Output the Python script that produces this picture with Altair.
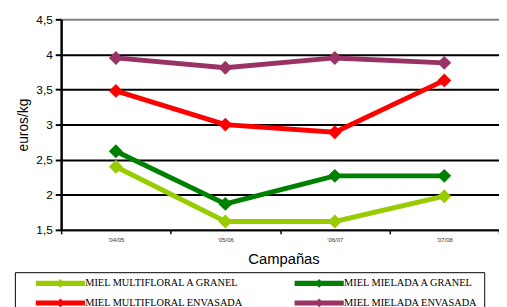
import altair as alt
import pandas as pd

campaigns = ["'04/05", "'05/06", "'06/07", "'07/08"]
series_names = [
    "MIEL MULTIFLORAL A GRANEL",
    "MIEL MIELADA A GRANEL",
    "MIEL MULTIFLORAL ENVASADA",
    "MIEL MIELADA ENVASADA",
]
multifloral_granel = [2.40, 1.62, 1.62, 1.98]
mielada_granel = [2.62, 1.87, 2.27, 2.27]
multifloral_envasada = [3.48, 3.00, 2.89, 3.63]
mielada_envasada = [3.95, 3.81, 3.95, 3.88]
colors = ["#99CC00", "#008000", "#FF0000", "#993366"]
y_ticks = [1.5, 2, 2.5, 3, 3.5, 4, 4.5]

rows = []
for name, vals in zip(series_names, [multifloral_granel, mielada_granel,
                                     multifloral_envasada, mielada_envasada]):
    for c, v in zip(campaigns, vals):
        rows.append({"serie": name, "campana": c, "precio": v})
df = pd.DataFrame(rows)

legend_symbol = ("M-1,-0.65L11.5,-0.65L11.5,0.65L-1,0.65Z "
                 "M5.25,-1.1L6.35,0L5.25,1.1L4.15,0Z")

SANS = "Liberation Sans, Arial, sans-serif"
SERIF = "Liberation Serif, Times New Roman, serif"

x_enc = alt.X("campana:N", sort=campaigns, title="Campañas",
              scale=alt.Scale(type="band", paddingInner=0, paddingOuter=0),
              axis=alt.Axis(labelAngle=0, labelFontSize=6, labelColor="#333",
                            tickBand="extent", tickSize=4, tickColor="black",
                            tickWidth=1.5, domainColor="black", domainWidth=2,
                            labelPadding=3, titleFontSize=15, titleFontWeight="normal",
                            titleColor="black", titlePadding=9, titleX=226, grid=False,
                            labelFont=SANS, titleFont=SANS))
y_enc = alt.Y("precio:Q", title="euros/kg",
              scale=alt.Scale(domain=[1.5, 4.5], nice=False, zero=False),
              axis=alt.Axis(values=y_ticks,
                            labelExpr="replace(format(datum.value, '.1~f'), '.', ',')",
                            labelFontSize=12, labelColor="black", labelFont=SANS,
                            tickSize=6, tickColor="black", tickWidth=2,
                            domainColor="black", domainWidth=2.5, labelPadding=3,
                            grid=True, gridColor={"expr": "datum.value == 4.5 ? '#808080' : 'black'"},
                            gridWidth=2, titleFontSize=14, titleFontWeight="normal",
                            titleColor="black", titleFont=SANS, titlePadding=6))
color_enc = alt.Color("serie:N", sort=series_names,
                      scale=alt.Scale(domain=series_names, range=colors),
                      legend=alt.Legend(title=None, orient="none", legendX=-47, legendY=257,
                                        columns=2, direction="horizontal",
                                        symbolType=legend_symbol, symbolSize=64,
                                        symbolStrokeWidth=0, symbolOffset=14,
                                        labelFont=SERIF, labelFontSize=10.5,
                                        labelColor="black", labelOffset=41,
                                        columnPadding=37, rowPadding=9, padding=6,
                                        strokeColor="black", labelLimit=400))

base = alt.Chart(df).encode(x=x_enc, y=y_enc, color=color_enc)
lines = base.mark_line(strokeWidth=5)
points = base.mark_point(shape="diamond", filled=True, size=200, opacity=1)

chart = (lines + points).properties(
    width=445, height=214,
    autosize=alt.AutoSizeParams(type="none"),
    padding={"left": 54, "top": 9, "right": 0, "bottom": 84},
    background="white",
).configure_view(stroke=None)

chart.save("out.html", embed_options={"renderer": "svg", "actions": False})
